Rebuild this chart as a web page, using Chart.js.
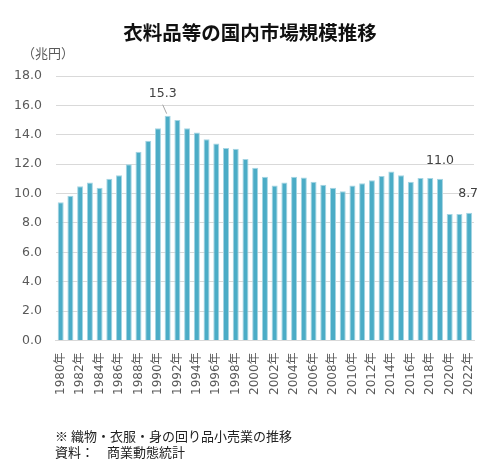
<!DOCTYPE html>
<html>
<head>
<meta charset="utf-8">
<script src="https://cdn.jsdelivr.net/npm/chart.js@4/dist/chart.umd.min.js"></script>
<style>
  html,body{margin:0;padding:0;background:#fff;}
  body{width:488px;height:461px;position:relative;overflow:hidden;font-family:"Noto Sans CJK JP","Noto Sans",sans-serif;}
  #wrap{position:absolute;left:0;top:0;width:488px;height:461px;}
  .title{position:absolute;left:0;width:500px;top:17px;text-align:center;font-size:19.5px;font-weight:bold;color:#111;}
  .unit{position:absolute;left:22px;top:43px;font-size:13px;color:#595959;}
  .note{position:absolute;left:55px;font-size:13px;color:#222;line-height:16px;}
</style>
</head>
<body>
<div id="wrap"><canvas id="chart"></canvas></div>
<div class="title">衣料品等の国内市場規模推移</div>
<div class="unit">（兆円）</div>
<div class="note" style="top:428px">※ 織物・衣服・身の回り品小売業の推移</div>
<div class="note" style="top:444px">資料：　商業動態統計</div>
<script>
// 年（1980〜2022）
const years = ['1980','1981','1982','1983','1984','1985','1986','1987','1988','1989',
  '1990','1991','1992','1993','1994','1995','1996','1997','1998','1999',
  '2000','2001','2002','2003','2004','2005','2006','2007','2008','2009',
  '2010','2011','2012','2013','2014','2015','2016','2017','2018','2019',
  '2020','2021','2022'];
// 市場規模（兆円）
const marketSize = [9.4,9.85,10.5,10.75,10.4,11.0,11.25,12.0,12.85,13.6,
  14.45,15.3,15.0,14.45,14.15,13.7,13.4,13.1,13.05,12.35,
  11.75,11.15,10.55,10.75,11.15,11.1,10.8,10.6,10.4,10.15,
  10.55,10.7,10.9,11.2,11.5,11.25,10.8,11.05,11.05,11.0,
  8.6,8.6,8.7];
const yTicks = [0,2,4,6,8,10,12,14,16,18];
// ラベルを付ける年
const labeledYears = ['1991','2019','2022'];

const valueLabels = {
  id:'valueLabels',
  afterDatasetsDraw(chart){
    const ctx = chart.ctx;
    const meta = chart.getDatasetMeta(0);
    ctx.save();
    ctx.font = '12.5px "DejaVu Sans",sans-serif';
    ctx.fillStyle = '#404040';
    ctx.textAlign = 'center';
    ctx.textBaseline = 'bottom';
    labeledYears.forEach(y=>{
      const i = years.indexOf(y);
      const bar = meta.data[i];
      const v = marketSize[i];
      let lx = bar.x, ly = bar.y - 12;
      if(y==='1991'){
        lx = bar.x - 5; ly = bar.y - 16;
        ctx.strokeStyle = '#a6a6a6'; ctx.lineWidth = 1;
        ctx.beginPath(); ctx.moveTo(bar.x - 5, bar.y - 11); ctx.lineTo(bar.x - 1, bar.y - 2); ctx.stroke();
      }
      if(y==='2022'){ lx = bar.x - 1; ly = bar.y - 13; }
      ctx.fillText(v.toFixed(1), lx, ly);
    });
    ctx.restore();
  }
};

new Chart(document.getElementById('chart'), {
  type:'bar',
  data:{
    labels: years.map(y=>y+'年'),
    datasets:[{
      data: marketSize,
      backgroundColor:'#4bacc6',
      borderColor:'#a5d5e3',
      borderWidth:{top:1,left:1,right:1,bottom:0},
      barPercentage:0.62,
      categoryPercentage:1.0
    }]
  },
  options:{
    responsive:true,
    maintainAspectRatio:false,
    animation:false,
    layout:{padding:{left:0,right:14,top:76,bottom:62}},
    plugins:{legend:{display:false},tooltip:{enabled:false}},
    scales:{
      x:{
        grid:{display:false},
        border:{color:'#d9d9d9'},
        ticks:{
          autoSkip:false,
          maxRotation:90,
          minRotation:90,
          color:'#595959',
          font:{size:12,family:'"DejaVu Sans","Noto Sans CJK JP",sans-serif'},
          padding:4,
          callback:(v,i)=> (parseInt(years[i])%2===0) ? years[i]+'年' : ''
        }
      },
      y:{
        min:0,max:18,
        afterBuildTicks:axis=>{axis.ticks = yTicks.map(v=>({value:v}));},
        grid:{color:'#d9d9d9',drawTicks:false},
        border:{display:false},
        ticks:{
          color:'#595959',
          padding:14,
          font:{size:12.5,family:'"DejaVu Sans",sans-serif'},
          callback:v=>v.toFixed(1)
        }
      }
    }
  },
  plugins:[valueLabels]
});
</script>
</body>
</html>
